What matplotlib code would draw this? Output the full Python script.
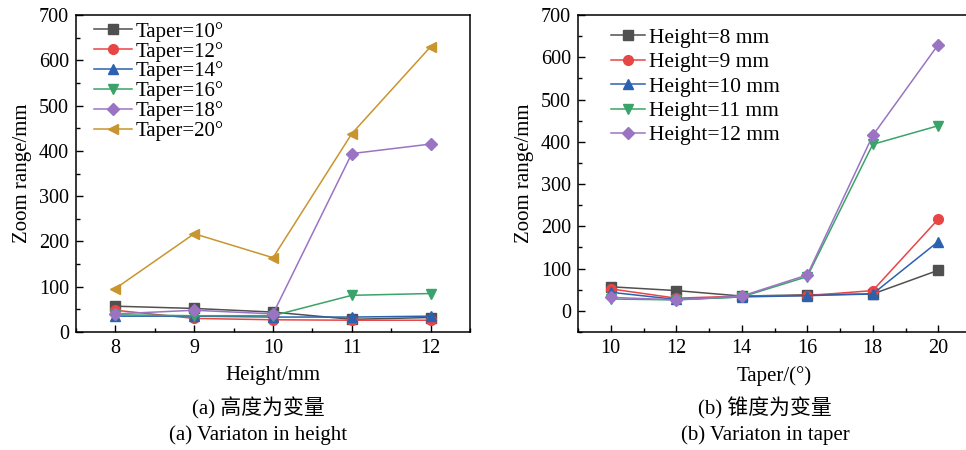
import matplotlib
matplotlib.use("Agg")
import matplotlib.pyplot as plt
from matplotlib.ticker import MultipleLocator

plt.rcParams['font.family'] = ['Liberation Serif', 'Noto Sans CJK SC']
plt.rcParams['mathtext.fontset'] = 'stix'

# data: zoom range (mm) for each taper, over heights 8..12 mm
heights = [8, 9, 10, 11, 12]
tapers = [10, 12, 14, 16, 18, 20]
taper_10 = [57, 52, 44, 28, 32]
taper_12 = [48, 30, 27, 26, 26]
taper_14 = [35, 35, 33, 33, 35]
taper_16 = [38, 36, 36, 81, 85]
taper_18 = [40, 48, 40, 394, 415]
taper_20 = [96, 217, 164, 438, 630]
by_taper = [taper_10, taper_12, taper_14, taper_16, taper_18, taper_20]

colors = ['#505050', '#e84545', '#2a62b0', '#3aa36a', '#9a74c2', '#c8952e']
markers = ['s', 'o', '^', 'v', 'D', '<']
msizes = [6.5, 7, 7.5, 7.5, 6, 7.5]

W, H = 966, 450
fig = plt.figure(figsize=(W / 100, H / 100), dpi=100)


def px_axes(x0, x1, ytop, ybot):
    return fig.add_axes([x0 / W, (H - ybot) / H, (x1 - x0) / W, (ybot - ytop) / H])


def style(ax):
    ax.tick_params(which='both', direction='in', top=False, right=False,
                   labelsize=14.5, pad=5)
    ax.tick_params(which='major', length=5, width=1)
    ax.tick_params(which='minor', length=3, width=1)
    for s in ax.spines.values():
        s.set_linewidth(1.1)


# (a) variation in height
ax1 = px_axes(76, 470, 15, 332)
for i, t in enumerate(tapers):
    ax1.plot(heights, by_taper[i], color=colors[i], marker=markers[i],
             ms=msizes[i], lw=1.1, label=f'Taper={t}°')
ax1.set_xlim(7.5, 12.5)
ax1.set_ylim(0, 700)
ax1.xaxis.set_major_locator(MultipleLocator(1))
ax1.xaxis.set_minor_locator(MultipleLocator(0.5))
ax1.yaxis.set_major_locator(MultipleLocator(100))
ax1.yaxis.set_minor_locator(MultipleLocator(50))
style(ax1)
ax1.set_xlabel('Height/mm', fontsize=15, labelpad=6)
ax1.set_ylabel('Zoom range/mm', fontsize=15, labelpad=5)
ax1.legend(loc='upper left', bbox_to_anchor=(0.025, 1.005), frameon=False,
           fontsize=15, handlelength=1.8, handletextpad=0.2,
           labelspacing=0.0, borderaxespad=0.0)

# (b) variation in taper
ax2 = px_axes(578, 971, 15, 332)
for j, h in enumerate(heights):
    vals = [row[j] for row in by_taper]
    ax2.plot(tapers, vals, color=colors[j], marker=markers[j],
             ms=msizes[j], lw=1.1, label=f'Height={h} mm')
ax2.set_xlim(9, 21)
ax2.set_ylim(-50, 700)
ax2.xaxis.set_major_locator(MultipleLocator(2))
ax2.xaxis.set_minor_locator(MultipleLocator(1))
ax2.yaxis.set_major_locator(MultipleLocator(100))
ax2.yaxis.set_minor_locator(MultipleLocator(50))
style(ax2)
ax2.set_xlabel('Taper/(°)', fontsize=15, labelpad=6)
ax2.set_ylabel('Zoom range/mm', fontsize=15, labelpad=5)
ax2.legend(loc='upper left', bbox_to_anchor=(0.05, 1.0), frameon=False,
           fontsize=15.5, handlelength=1.6, handletextpad=0.2,
           labelspacing=0.2, borderaxespad=0.2)

# captions
fig.text(258 / W, 1 - 408 / H, '(a) 高度为变量', ha='center', va='center', fontsize=15)
fig.text(258 / W, 1 - 435 / H, '(a) Variaton in height', ha='center', va='center', fontsize=15)
fig.text(765 / W, 1 - 408 / H, '(b) 锥度为变量', ha='center', va='center', fontsize=15)
fig.text(765 / W, 1 - 435 / H, '(b) Variaton in taper', ha='center', va='center', fontsize=15)

fig.savefig('out.png', dpi=100)
